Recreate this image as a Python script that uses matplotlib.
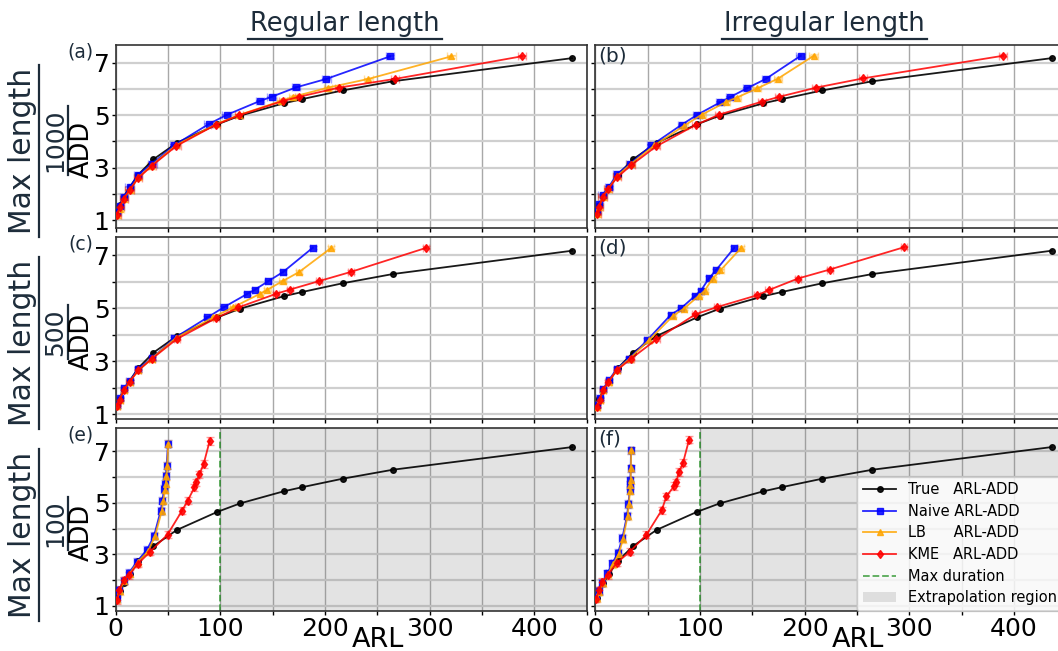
import matplotlib
matplotlib.use("Agg")
import matplotlib.pyplot as plt
from matplotlib.lines import Line2D
from matplotlib.patches import Patch

# ---- data (ARL on x, ADD on y) ----
TRUE_ARL = [1.5, 4.0, 7.7, 13.2, 21.6, 36.0, 58.5, 97.0, 118.7, 160.4, 178.0, 216.7, 264.8, 436.0]
TRUE_ADD = [1.3, 1.57, 1.9, 2.25, 2.74, 3.32, 3.95, 4.65, 4.98, 5.45, 5.61, 5.94, 6.29, 7.17]

# (a) regular length, max length 1000
A_NAIVE_ARL = [1.5, 3.7, 7.7, 13.2, 21.6, 35.0, 56.0, 88.8, 106.0, 137.7, 149.0, 172.5, 201.3, 262.3]
A_NAIVE_ADD = [1.3, 1.55, 1.89, 2.25, 2.74, 3.16, 3.86, 4.66, 5.01, 5.54, 5.7, 6.06, 6.38, 7.24]
A_LB_ARL = [1.5, 3.7, 7.7, 13.2, 21.6, 34.0, 57.7, 96.0, 118.0, 158.0, 169.5, 203.0, 241.5, 320.8]
A_LB_ADD = [1.2, 1.45, 1.83, 2.14, 2.63, 3.08, 3.86, 4.66, 5.01, 5.54, 5.7, 6.05, 6.38, 7.24]
A_KME_ARL = [1.5, 3.7, 7.7, 13.2, 21.6, 34.7, 58.0, 95.4, 118.0, 159.7, 175.4, 213.4, 267.0, 388.0]
A_KME_ADD = [1.22, 1.51, 1.83, 2.15, 2.61, 3.08, 3.83, 4.63, 5.0, 5.54, 5.7, 6.05, 6.38, 7.24]

# (b) irregular length, max length 1000
B_NAIVE_ARL = [1.6, 3.8, 7.0, 12.8, 20.7, 32.9, 53.6, 82.6, 97.6, 119.3, 128.9, 144.8, 163.3, 196.2]
B_NAIVE_ADD = [1.34, 1.62, 1.97, 2.26, 2.76, 3.14, 3.85, 4.64, 5.02, 5.49, 5.69, 6.02, 6.39, 7.26]
B_LB_ARL = [1.6, 3.8, 7.0, 12.4, 20.7, 33.8, 56.5, 84.8, 101.8, 124.4, 135.2, 154.7, 174.5, 208.6]
B_LB_ADD = [1.24, 1.52, 1.9, 2.19, 2.68, 3.14, 3.85, 4.6, 5.02, 5.49, 5.67, 6.02, 6.39, 7.26]
B_KME_ARL = [1.6, 3.8, 7.0, 12.4, 20.7, 34.4, 58.0, 96.0, 118.3, 159.5, 175.8, 211.2, 255.8, 389.5]
B_KME_ADD = [1.24, 1.52, 1.9, 2.19, 2.63, 3.1, 3.81, 4.63, 5.02, 5.52, 5.7, 6.05, 6.4, 7.26]

# (c) regular length, max length 500
C_NAIVE_ARL = [1.5, 3.7, 7.7, 13.2, 21.6, 35.0, 56.0, 87.7, 103.0, 125.7, 133.0, 145.8, 160.0, 188.2]
C_NAIVE_ADD = [1.35, 1.6, 1.98, 2.24, 2.72, 3.12, 3.87, 4.65, 5.03, 5.54, 5.7, 6.02, 6.37, 7.28]
C_LB_ARL = [1.5, 3.7, 7.7, 13.2, 21.6, 34.4, 57.4, 93.0, 112.0, 137.7, 145.0, 159.4, 175.4, 206.0]
C_LB_ADD = [1.3, 1.55, 1.9, 2.22, 2.65, 3.1, 3.87, 4.65, 5.03, 5.54, 5.7, 6.02, 6.37, 7.28]
C_KME_ARL = [1.5, 3.7, 7.7, 13.2, 21.6, 35.0, 58.5, 95.7, 117.3, 153.0, 166.2, 194.0, 224.7, 296.7]
C_KME_ADD = [1.3, 1.55, 1.9, 2.22, 2.65, 3.1, 3.84, 4.62, 5.03, 5.54, 5.7, 6.02, 6.37, 7.28]

# (d) irregular length, max length 500
D_NAIVE_ARL = [1.6, 4.1, 7.3, 12.8, 20.7, 32.2, 49.8, 72.1, 82.0, 95.4, 100.8, 108.8, 115.2, 132.7]
D_NAIVE_ADD = [1.34, 1.59, 1.94, 2.27, 2.72, 3.1, 3.8, 4.75, 5.0, 5.47, 5.66, 6.14, 6.43, 7.28]
D_LB_ARL = [1.6, 4.1, 7.3, 12.8, 20.7, 33.0, 51.5, 74.5, 84.5, 99.0, 104.5, 112.0, 119.6, 139.4]
D_LB_ADD = [1.28, 1.53, 1.9, 2.22, 2.68, 3.1, 3.8, 4.72, 4.98, 5.47, 5.66, 6.12, 6.43, 7.28]
D_KME_ARL = [1.6, 4.1, 7.3, 12.4, 20.7, 34.4, 58.4, 95.7, 116.1, 154.7, 165.5, 193.6, 224.0, 294.7]
D_KME_ADD = [1.28, 1.53, 1.9, 2.22, 2.66, 3.1, 3.82, 4.77, 5.04, 5.49, 5.68, 6.12, 6.46, 7.3]

# (e) regular length, max length 100
E_NAIVE_ARL = [1.5, 3.5, 7.5, 12.7, 20.3, 29.9, 36.6, 43.0, 44.6, 46.2, 47.0, 48.0, 48.6, 50.0]
E_NAIVE_ADD = [1.3, 1.62, 1.98, 2.28, 2.72, 3.18, 3.72, 4.7, 5.09, 5.54, 5.74, 6.06, 6.45, 7.3]
E_LB_ARL = [1.5, 3.7, 7.7, 13.2, 21.0, 31.0, 37.5, 44.0, 45.5, 47.2, 47.8, 48.5, 49.2, 50.2]
E_LB_ADD = [1.25, 1.58, 1.95, 2.25, 2.7, 3.12, 3.7, 4.68, 5.08, 5.52, 5.74, 6.05, 6.45, 7.3]
E_KME_ARL = [1.3, 3.2, 7.6, 12.7, 21.3, 32.9, 49.5, 63.4, 68.8, 75.2, 76.8, 80.0, 84.0, 89.8]
E_KME_ADD = [1.22, 1.6, 2.0, 2.19, 2.64, 3.1, 3.77, 4.7, 5.09, 5.6, 5.8, 6.12, 6.51, 7.41]

# (f) irregular length, max length 100
F_NAIVE_ARL = [1.0, 3.5, 6.7, 11.5, 16.3, 21.7, 25.8, 30.3, 31.6, 32.9, 33.2, 33.5, 33.8, 34.1]
F_NAIVE_ADD = [1.34, 1.58, 1.9, 2.26, 2.66, 3.05, 3.64, 4.5, 4.96, 5.5, 5.7, 5.88, 6.34, 7.04]
F_LB_ARL = [1.2, 3.6, 7.0, 12.0, 17.0, 22.5, 26.5, 30.8, 32.0, 33.2, 33.5, 33.8, 34.0, 34.3]
F_LB_ADD = [1.3, 1.55, 1.88, 2.22, 2.62, 3.02, 3.6, 4.48, 4.95, 5.48, 5.7, 5.88, 6.34, 7.04]
F_KME_ARL = [1.0, 3.5, 6.7, 11.8, 20.7, 32.9, 48.8, 63.5, 68.0, 75.4, 77.2, 80.0, 83.9, 89.6]
F_KME_ADD = [1.28, 1.6, 1.93, 2.2, 2.68, 3.1, 3.76, 4.72, 5.26, 5.66, 5.8, 6.2, 6.57, 7.46]

PANELS = [
    ("(a)", A_NAIVE_ARL, A_NAIVE_ADD, A_LB_ARL, A_LB_ADD, A_KME_ARL, A_KME_ADD),
    ("(b)", B_NAIVE_ARL, B_NAIVE_ADD, B_LB_ARL, B_LB_ADD, B_KME_ARL, B_KME_ADD),
    ("(c)", C_NAIVE_ARL, C_NAIVE_ADD, C_LB_ARL, C_LB_ADD, C_KME_ARL, C_KME_ADD),
    ("(d)", D_NAIVE_ARL, D_NAIVE_ADD, D_LB_ARL, D_LB_ADD, D_KME_ARL, D_KME_ADD),
    ("(e)", E_NAIVE_ARL, E_NAIVE_ADD, E_LB_ARL, E_LB_ADD, E_KME_ARL, E_KME_ADD),
    ("(f)", F_NAIVE_ARL, F_NAIVE_ADD, F_LB_ARL, F_LB_ADD, F_KME_ARL, F_KME_ADD),
]
# rough error bar half widths per row: (ARL, ADD)
ROW_ERR = [(4.0, 0.05), (3.0, 0.06), (1.5, 0.14)]
ROW_YLIM = [(0.72, 7.67), (0.8, 7.7), (0.8, 7.9)]
COL_TITLES = ["Regular length", "Irregular length"]
ROW_DENOMS = ["1000", "500", "100"]
MAX_DURATION = 100

DARK = "#1d2c3a"
W, H = 1058, 651

fig = plt.figure(figsize=(W / 100, H / 100), dpi=100)

col_left = [115.7, 595.3]
ax_w = 471
row_top = [45, 236.7, 428.3]
ax_h = 182.7

axes = []
for r in range(3):
    for c in range(2):
        ax = fig.add_axes([col_left[c] / W, 1 - (row_top[r] + ax_h) / H, ax_w / W, ax_h / H])
        axes.append(ax)

for i, ax in enumerate(axes):
    r, c = divmod(i, 2)
    lab, n_arl, n_add, lb_arl, lb_add, k_arl, k_add = PANELS[i]
    xe, ye = ROW_ERR[r]

    if r == 2:
        ax.axvspan(MAX_DURATION, 450, color="gray", alpha=0.22, lw=0, zorder=0.6)
        vline = ax.axvline(MAX_DURATION, color="green", ls="--", lw=1.3, alpha=0.65, zorder=1)

    h_true, = ax.plot(TRUE_ARL, TRUE_ADD, color="k", marker="o", ms=4, lw=1.3, alpha=0.9, zorder=3)
    series = [(n_arl, n_add, "blue", "s", 4.5), (lb_arl, lb_add, "orange", "^", 4.5),
              (k_arl, k_add, "red", "d", 4.5)]
    hs = [h_true]
    for x, y, col, m, ms in series:
        ax.errorbar(x, y, xerr=xe, yerr=ye, fmt="none", ecolor=col, alpha=0.35,
                    capsize=3, elinewidth=1.2, zorder=2)
        h, = ax.plot(x, y, color=col, marker=m, ms=ms, lw=1.3, alpha=0.85, zorder=3)
        hs.append(h)

    ax.set_xlim(0, 450)
    ax.set_ylim(*ROW_YLIM[r])
    ax.set_xticks(range(0, 451, 50))
    ax.set_yticks(range(1, 8))
    if r == 2:
        ax.set_xticklabels(["0", "", "100", "", "200", "", "300", "", "400", ""])
    else:
        ax.set_xticklabels([])
    if c == 0:
        ax.set_yticklabels(["1", "", "3", "", "5", "", "7"])
    else:
        ax.set_yticklabels([])
    ax.tick_params(axis="both", labelsize=18, length=3, width=1, pad=1.5)
    ax.set_axisbelow(True)
    ax.grid(axis="x", color="#a8a8a8", lw=1)
    ax.grid(axis="y", color="#cfcfcf", lw=1.6)
    for sp in ax.spines.values():
        sp.set_color("#333333")
        sp.set_linewidth(1.2)

    if c == 0:
        ax.text(-0.075, 1 - 7 / ax_h, lab, transform=ax.transAxes, ha="center", va="center",
                fontsize=13.5, color=DARK)
    else:
        ax.text(0.006, 1 - 11 / ax_h, lab, transform=ax.transAxes, ha="left", va="center",
                fontsize=14.5, color=DARK)

    if i == 5:
        labels = ["True   ARL-ADD", "Naive ARL-ADD", "LB      ARL-ADD", "KME   ARL-ADD",
                  "Max duration", "Extrapolation region"]
        span_h = Patch(facecolor="gray", alpha=0.22)
        ax.legend(hs + [vline, span_h], labels, loc="lower left",
                  bbox_to_anchor=((857 - col_left[1]) / ax_w, 0.0), borderaxespad=0,
                  fontsize=10.5, labelspacing=0.45, handlelength=2.3, framealpha=0.8)

# column titles with underline
txts = []
for c in range(2):
    xc = (col_left[c] + ax_w / 2 - 6) / W
    t = fig.text(xc, 1 - 31 / H, COL_TITLES[c], ha="center", va="baseline", fontsize=18.5, color=DARK)
    txts.append(("h", t))

# row labels: "Max length", denominator, "ADD"
for r in range(3):
    yc = row_top[r] + ax_h / 2
    t1 = fig.text(23 / W, 1 - (yc + 15) / H, "Max length", rotation=90, ha="center", va="center",
                  fontsize=21.5, color=DARK)
    t2 = fig.text(55 / W, 1 - (yc + 4) / H, ROW_DENOMS[r], rotation=90, ha="center", va="center",
                  fontsize=18, color=DARK)
    fig.text(82 / W, 1 - (yc + 13) / H, "ADD", rotation=90, ha="center", va="center",
             fontsize=18.5, color="black")
    txts.append(("v", t1))
    txts.append(("v", t2))

# x labels
for c in range(2):
    fig.text((col_left[c] + ax_w / 2 + 27) / W, 4 / H, "ARL", ha="center", va="baseline",
             fontsize=19.5, color="black")

fig.canvas.draw()
rend = fig.canvas.get_renderer()
for kind, t in txts:
    bb = t.get_window_extent(rend)
    if kind == "h":
        y = bb.y0 - 2
        fig.add_artist(Line2D([(bb.x0 - 2) / W, (bb.x1 + 2) / W], [y / H, y / H],
                              color=DARK, lw=1.6))
    else:
        x = bb.x1 + 1
        fig.add_artist(Line2D([x / W, x / W], [(bb.y0 - 3) / H, (bb.y1 + 3) / H],
                              color=DARK, lw=1.6))

fig.savefig("out.png", dpi=100)
